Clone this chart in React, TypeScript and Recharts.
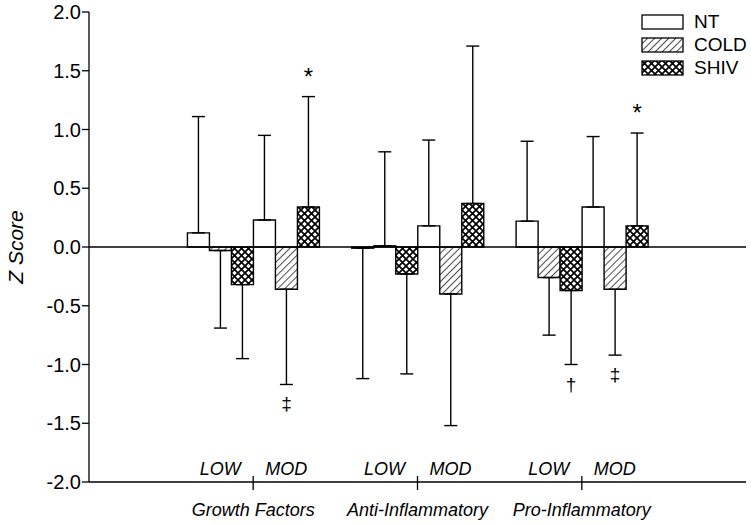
import React from "react";
import {
  BarChart,
  Bar,
  XAxis,
  YAxis,
  ReferenceLine,
  ErrorBar,
  LabelList,
  Legend,
} from "recharts";

const FONT = '"Liberation Sans", Arial, Helvetica, sans-serif';

const groups = ["Growth Factors", "Anti-Inflammatory", "Pro-Inflammatory"];
const levels = ["LOW", "MOD"];
const yTicks = [-2, -1.5, -1, -0.5, 0, 0.5, 1, 1.5, 2];

// LOW
const ntLow = [0.12, -0.01, 0.22];
const ntLowErr = [0.99, 1.11, 0.68];
const coldLow = [-0.03, 0.01, -0.26];
const coldLowErr = [0.66, 0.8, 0.49];
const shivLow = [-0.32, -0.23, -0.37];
const shivLowErr = [0.63, 0.85, 0.63];
const shivLowMark = ["", "", "†"];

// MOD
const ntMod = [0.23, 0.18, 0.34];
const ntModErr = [0.72, 0.73, 0.6];
const coldMod = [-0.36, -0.4, -0.36];
const coldModErr = [0.81, 1.12, 0.56];
const coldModMark = ["‡", "", "‡"];
const shivMod = [0.34, 0.37, 0.18];
const shivModErr = [0.94, 1.34, 0.79];
const shivModMark = ["*", "", "*"];

// error only drawn away from zero
const oneSided = (v: number, e: number) => (v >= 0 ? [0, e] : [e, 0]);

const data = groups.map((g, i) => ({
  group: g,
  ntLow: ntLow[i],
  ntLowErr: oneSided(ntLow[i], ntLowErr[i]),
  coldLow: coldLow[i],
  coldLowErr: oneSided(coldLow[i], coldLowErr[i]),
  shivLow: shivLow[i],
  shivLowErr: oneSided(shivLow[i], shivLowErr[i]),
  shivLowMark: shivLowMark[i],
  ntMod: ntMod[i],
  ntModErr: oneSided(ntMod[i], ntModErr[i]),
  coldMod: coldMod[i],
  coldModErr: oneSided(coldMod[i], coldModErr[i]),
  coldModMark: coldModMark[i],
  shivMod: shivMod[i],
  shivModErr: oneSided(shivMod[i], shivModErr[i]),
  shivModMark: shivModMark[i],
}));

const FILLS = { NT: "#ffffff", COLD: "url(#hatchCold)", SHIV: "url(#crossShiv)" };

const legendItems = [
  { name: "NT", fill: FILLS.NT },
  { name: "COLD", fill: FILLS.COLD },
  { name: "SHIV", fill: FILLS.SHIV },
];

const renderLegend = () => (
  <div style={{ fontFamily: FONT, fontSize: 19, color: "#000" }}>
    {legendItems.map((it) => (
      <div key={it.name} style={{ display: "flex", alignItems: "center", height: 23 }}>
        <svg width={43} height={16} style={{ display: "block" }}>
          <rect x={1} y={1} width={41} height={14} fill={it.fill} stroke="#000" strokeWidth={1.3} />
        </svg>
        <span style={{ marginLeft: 10 }}>{it.name}</span>
      </div>
    ))}
  </div>
);

// significance marks beyond the end of the error bar
const makeMarker = (vals: number[], errs: number[]) => (props: any) => {
  const { index, value } = props;
  if (!value) return null;
  const vb = props.viewBox ?? props;
  const v = vals[index];
  const e = errs[index];
  const h = vb.height;
  const top = Math.min(vb.y, vb.y + h);
  const bottom = Math.max(vb.y, vb.y + h);
  const ppu = Math.abs(h) / Math.abs(v);
  const cx = vb.x + vb.width / 2;
  if (v >= 0) {
    return (
      <text x={cx} y={top - e * ppu - 12} textAnchor="middle" fontSize={24} fontFamily={FONT} fill="#000">
        {value}
      </text>
    );
  }
  return (
    <text x={cx} y={bottom + e * ppu + 26} textAnchor="middle" fontSize={19} fontFamily={FONT} fill="#000">
      {value}
    </text>
  );
};

const GroupTick = (props: any) => {
  const { x, y, payload } = props;
  return (
    <g fontFamily={FONT} fontStyle="italic" fontSize={18} fill="#000">
      <line x1={x} y1={y - 6} x2={x} y2={y + 8} stroke="#000" strokeWidth={1.3} />
      <text x={x - 33} y={y - 7} textAnchor="middle">{levels[0]}</text>
      <text x={x + 33} y={y - 7} textAnchor="middle">{levels[1]}</text>
      <text x={x} y={y + 34} textAnchor="middle">{payload.value}</text>
    </g>
  );
};

const YLabel = (props: any) => {
  const vb = props.viewBox;
  const cx = vb.x + 15;
  const cy = vb.y + vb.height / 2;
  return (
    <text
      x={cx}
      y={cy}
      transform={`rotate(-90, ${cx}, ${cy})`}
      textAnchor="middle"
      dominantBaseline="central"
      fontFamily={FONT}
      fontStyle="italic"
      fontSize={21}
      fill="#000"
    >
      Z Score
    </text>
  );
};

const barStyle = { stroke: "#000", strokeWidth: 1.4 };
const errStyle = { width: 6.5, stroke: "#000", strokeWidth: 1.4 };

export default function App() {
  return (
    <div style={{ position: "absolute", left: 0, top: 0, background: "#fff" }}>
      <BarChart
        width={751}
        height={524}
        data={data}
        margin={{ top: 12, right: 5, left: 0, bottom: 0 }}
        barCategoryGap="10%"
        barGap={0}
      >
        <defs>
          <pattern id="hatchCold" patternUnits="userSpaceOnUse" width={5} height={5} patternTransform="rotate(45)">
            <rect width={5} height={5} fill="#fff" />
            <line x1={0} y1={0} x2={0} y2={5} stroke="#000" strokeWidth={1.4} />
          </pattern>
          <pattern id="crossShiv" patternUnits="userSpaceOnUse" width={7} height={7}>
            <rect width={7} height={7} fill="#fff" />
            <path d="M0,0 L7,7 M7,0 L0,7" stroke="#000" strokeWidth={1.7} />
          </pattern>
        </defs>
        <XAxis
          dataKey="group"
          interval={0}
          height={42}
          padding={{ left: 82, right: 82 }}
          axisLine={{ stroke: "#000", strokeWidth: 1.3 }}
          tickLine={false}
          tickSize={0}
          tickMargin={0}
          tick={<GroupTick />}
        />
        <YAxis
          width={89}
          domain={[-2, 2]}
          ticks={yTicks}
          tickFormatter={(v: number) => v.toFixed(1)}
          axisLine={{ stroke: "#000", strokeWidth: 1.3 }}
          tickLine={{ stroke: "#000", strokeWidth: 1.3 }}
          tickSize={7}
          tickMargin={1}
          tick={{ fill: "#000", fontSize: 20, fontFamily: FONT }}
          label={<YLabel />}
        />
        <Legend
          layout="horizontal"
          verticalAlign="middle"
          align="center"
          content={renderLegend}
          wrapperStyle={{ top: 10, left: 641, width: 110, height: 70 }}
        />
        <Bar dataKey="ntLow" fill={FILLS.NT} {...barStyle} isAnimationActive={false}>
          <ErrorBar dataKey="ntLowErr" direction="y" {...errStyle} />
        </Bar>
        <Bar dataKey="coldLow" fill={FILLS.COLD} {...barStyle} isAnimationActive={false}>
          <ErrorBar dataKey="coldLowErr" direction="y" {...errStyle} />
        </Bar>
        <Bar dataKey="shivLow" fill={FILLS.SHIV} {...barStyle} isAnimationActive={false}>
          <ErrorBar dataKey="shivLowErr" direction="y" {...errStyle} />
          <LabelList dataKey="shivLowMark" content={makeMarker(shivLow, shivLowErr)} />
        </Bar>
        <Bar dataKey="ntMod" fill={FILLS.NT} {...barStyle} isAnimationActive={false}>
          <ErrorBar dataKey="ntModErr" direction="y" {...errStyle} />
        </Bar>
        <Bar dataKey="coldMod" fill={FILLS.COLD} {...barStyle} isAnimationActive={false}>
          <ErrorBar dataKey="coldModErr" direction="y" {...errStyle} />
          <LabelList dataKey="coldModMark" content={makeMarker(coldMod, coldModErr)} />
        </Bar>
        <Bar dataKey="shivMod" fill={FILLS.SHIV} {...barStyle} isAnimationActive={false}>
          <ErrorBar dataKey="shivModErr" direction="y" {...errStyle} />
          <LabelList dataKey="shivModMark" content={makeMarker(shivMod, shivModErr)} />
        </Bar>
        <ReferenceLine y={0} stroke="#000" strokeWidth={1.4} />
      </BarChart>
    </div>
  );
}
